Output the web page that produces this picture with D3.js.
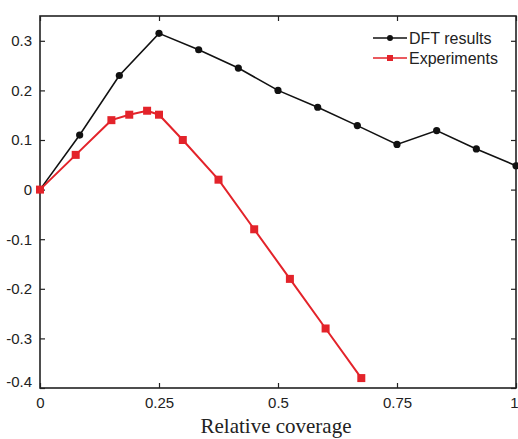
<!DOCTYPE html>
<html>
<head>
<meta charset="utf-8">
<script src="https://cdn.jsdelivr.net/npm/d3@7"></script>
<style>
  html, body { margin: 0; padding: 0; background: #fff; }
  svg { display: block; }
</style>
</head>
<body>
<svg id="chart" width="518" height="439"></svg>
<script>
// DFT results: coverage in steps of 1/12
const dftX = [0, 1/12, 2/12, 3/12, 4/12, 5/12, 6/12, 7/12, 8/12, 9/12, 10/12, 11/12, 1];
const dftY = [0, 0.11, 0.23, 0.315, 0.282, 0.245, 0.2, 0.166, 0.129, 0.091, 0.119, 0.082, 0.048];

// Experimental values
const expX = [0, 0.075, 0.15, 0.1875, 0.225, 0.25, 0.3, 0.375, 0.45, 0.525, 0.6, 0.675];
const expY = [0, 0.07, 0.14, 0.151, 0.159, 0.151, 0.1, 0.02, -0.08, -0.18, -0.28, -0.38];

const xTicks = [0, 0.25, 0.5, 0.75, 1];
const xTickLabels = ["0", "0.25", "0.5", "0.75", "1"];
const yTicks = [-0.4, -0.3, -0.2, -0.1, 0, 0.1, 0.2, 0.3];
const yTickLabels = ["-0.4", "-0.3", "-0.2", "-0.1", "0", "0.1", "0.2", "0.3"];

const seriesNames = ["DFT results", "Experiments"];
const seriesColors = ["#111111", "#e3232a"];

const svg = d3.select("#chart");
const L = 40, R = 516, T = 16, B = 388;

const x = d3.scaleLinear().domain([0, 1]).range([L, R]);
const y = d3.scaleLinear().domain([-0.4, 0.35]).range([B, T]);

const axisColor = "#222";
const tickFont = "'Liberation Sans', Arial, Helvetica, sans-serif";

// Frame
svg.append("rect")
  .attr("x", L).attr("y", T).attr("width", R - L).attr("height", B - T)
  .attr("fill", "none").attr("stroke", axisColor).attr("stroke-width", 1.6);

// Inward ticks on all four sides
const tickLen = 5;
const xLabelMap = new Map(xTicks.map((t, i) => [t, xTickLabels[i]]));
const yLabelMap = new Map(yTicks.map((t, i) => [t, yTickLabels[i]]));

function styleAxis(g) {
  g.select(".domain").remove();
  g.selectAll(".tick line").attr("stroke", axisColor).attr("stroke-width", 1.2);
  g.selectAll(".tick text").attr("fill", "#222")
    .style("font-family", tickFont).style("font-size", "15px");
}

const xAxisG = svg.append("g").attr("transform", `translate(0,${B})`)
  .call(d3.axisBottom(x).tickValues(xTicks).tickSizeInner(-tickLen).tickPadding(tickLen + 4)
    .tickFormat(d => xLabelMap.get(d)))
  .call(styleAxis);
// keep the last label inside the page edge
xAxisG.selectAll(".tick").filter(d => d === 1).select("text").attr("x", -2);

svg.append("g").attr("transform", `translate(0,${T})`)
  .call(d3.axisTop(x).tickValues(xTicks).tickSizeInner(-tickLen).tickFormat(""))
  .call(styleAxis);

const yAxisG = svg.append("g").attr("transform", `translate(${L},0)`)
  .call(d3.axisLeft(y).tickValues(yTicks).tickSizeInner(-tickLen).tickPadding(tickLen + 3)
    .tickFormat(d => yLabelMap.get(d)))
  .call(styleAxis);
// lift the lowest label a little so it clears the x labels
yAxisG.selectAll(".tick").filter(d => d === -0.4).select("text").attr("y", -6);

svg.append("g").attr("transform", `translate(${R},0)`)
  .call(d3.axisRight(y).tickValues(yTicks).tickSizeInner(-tickLen).tickFormat(""))
  .call(styleAxis);

// Series lines
const line = d3.line().x(d => x(d[0])).y(d => y(d[1]));
const dft = dftX.map((v, i) => [v, dftY[i]]);
const exp = expX.map((v, i) => [v, expY[i]]);

svg.append("path").datum(dft).attr("d", line)
  .attr("fill", "none").attr("stroke", seriesColors[0]).attr("stroke-width", 1.6);
svg.append("path").datum(exp).attr("d", line)
  .attr("fill", "none").attr("stroke", seriesColors[1]).attr("stroke-width", 2);

// Markers
svg.append("g").selectAll("circle").data(dft).join("circle")
  .attr("cx", d => x(d[0])).attr("cy", d => y(d[1])).attr("r", 3.6)
  .attr("fill", seriesColors[0]);

const sq = 8;
svg.append("g").selectAll("rect").data(exp).join("rect")
  .attr("x", d => x(d[0]) - sq / 2).attr("y", d => y(d[1]) - sq / 2)
  .attr("width", sq).attr("height", sq).attr("fill", seriesColors[1]);

// Legend
const legend = svg.append("g");
const legY = [38, 58];
seriesNames.forEach((name, i) => {
  const g = legend.append("g").attr("transform", `translate(0,${legY[i]})`);
  g.append("line").attr("x1", 373).attr("x2", 407).attr("y1", 0).attr("y2", 0)
    .attr("stroke", seriesColors[i]).attr("stroke-width", i === 0 ? 1.4 : 1.6);
  if (i === 0) {
    g.append("circle").attr("cx", 390).attr("cy", 0).attr("r", 3).attr("fill", seriesColors[i]);
  } else {
    g.append("rect").attr("x", 387).attr("y", -3).attr("width", 6).attr("height", 6).attr("fill", seriesColors[i]);
  }
  g.append("text").attr("x", 409).attr("y", 5.5)
    .style("font-family", tickFont).style("font-size", "16px").attr("fill", "#222")
    .text(name);
});

// X-axis title
svg.append("text")
  .attr("x", 276).attr("y", 433).attr("text-anchor", "middle")
  .style("font-family", "'Liberation Serif', 'Times New Roman', serif")
  .style("font-size", "21px").attr("fill", "#222")
  .text("Relative coverage");
</script>
</body>
</html>
